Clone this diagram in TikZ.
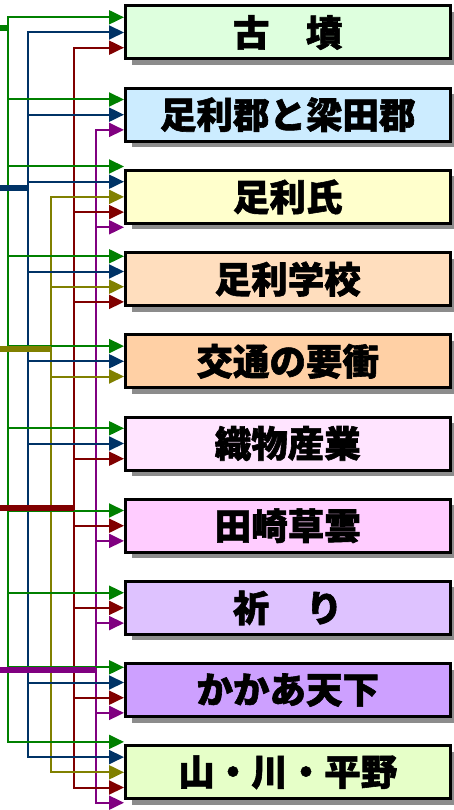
\documentclass[tikz,border=0pt]{standalone}
\usepackage{fontspec}
\newfontfamily\jp{Noto Sans CJK JP}[BoldFeatures={FakeBold=1.6}]
\usetikzlibrary{arrows.meta,shadows,calc}
\definecolor{cg}{RGB}{0,128,0}
\definecolor{cb}{RGB}{0,51,102}
\definecolor{co}{RGB}{128,128,0}
\definecolor{cr}{RGB}{128,0,0}
\definecolor{cp}{RGB}{128,0,128}
\definecolor{shgray}{RGB}{140,140,140}
\definecolor{f1}{RGB}{222,255,222}
\definecolor{f2}{RGB}{204,236,255}
\definecolor{f3}{RGB}{255,255,204}
\definecolor{f4}{RGB}{255,222,190}
\definecolor{f5}{RGB}{255,208,165}
\definecolor{f6}{RGB}{255,228,255}
\definecolor{f7}{RGB}{255,204,255}
\definecolor{f8}{RGB}{222,194,255}
\definecolor{f9}{RGB}{205,160,255}
\definecolor{f10}{RGB}{230,255,200}
\newcommand\feedline[3]{%
  \path ($(#1.west)+(0,#3)$) coordinate (#1#2);
  \draw[feedarrow, c#2] (#2x |- #1#2) -- (#1#2);}
\begin{document}
\begin{tikzpicture}[x=1pt,y=-1pt,
  topic/.style={draw=black, line width=3pt, minimum width=324.5pt,
    minimum height=53pt, inner sep=0pt,
    font=\jp\bfseries\fontsize{36.5}{36.5}\selectfont,
    general shadow={fill=shgray, shadow xshift=6pt, shadow yshift=-6pt}},
  feedarrow/.style={line width=2pt, -{Triangle[length=15pt,width=14pt]}},
  rail/.style={line width=2pt, line cap=rect},
  stub/.style={line width=5.5pt}]
\useasboundingbox (0,0) rectangle (454,810);
% topic boxes
\node[topic, fill=f1]  (b1)  at (287.75, 32.5)  {古　墳};
\node[topic, fill=f2]  (b2)  at (287.75, 114.7) {足利郡と梁田郡};
\node[topic, fill=f3]  (b3)  at (287.75, 196.9) {足利氏};
\node[topic, fill=f4]  (b4)  at (287.75, 279.1) {足利学校};
\node[topic, fill=f5]  (b5)  at (287.75, 361.3) {交通の要衝};
\node[topic, fill=f6]  (b6)  at (287.75, 443.5) {織物産業};
\node[topic, fill=f7]  (b7)  at (287.75, 525.7) {田崎草雲};
\node[topic, fill=f8]  (b8)  at (287.75, 607.9) {祈　り};
\node[topic, fill=f9]  (b9)  at (287.75, 690.1) {かかあ天下};
\node[topic, fill=f10] (b10) at (287.75, 772.3) {山・川・平野};
% rail x positions
\coordinate (gx) at (7.5,0);
\coordinate (bx) at (28,0);
\coordinate (ox) at (51,0);
\coordinate (rx) at (74,0);
\coordinate (px) at (96,0);
% rail end points
\path ($(b1.west)+(0,-15.2)$) coordinate (b1g);
\path ($(b10.west)+(0,-30.4)$) coordinate (b10g);
\path ($(b1.west)+(0,0)$) coordinate (b1b);
\path ($(b10.west)+(0,-15.2)$) coordinate (b10b);
\path ($(b3.west)+(0,0)$) coordinate (b3o);
\path ($(b10.west)+(0,0)$) coordinate (b10o);
\path ($(b1.west)+(0,15.2)$) coordinate (b1r);
\path ($(b10.west)+(0,15.2)$) coordinate (b10r);
\path ($(b2.west)+(0,15.2)$) coordinate (b2p);
\path ($(b10.west)+(0,30.4)$) coordinate (b10p);
% rails
\draw[rail, cg] (gx |- b1g) -- (gx |- b10g);
\draw[rail, cb] (bx |- b1b) -- (bx |- b10b);
\draw[rail, co] (ox |- b3o) -- (ox |- b10o);
\draw[rail, cr] (rx |- b1r) -- (rx |- b10r);
\draw[rail, cp] (px |- b2p) -- (px |- b10p);
% arrows
\feedline{b1}{g}{-15.2}\feedline{b1}{b}{0}\feedline{b1}{r}{15.2}
\feedline{b2}{g}{-15.2}\feedline{b2}{b}{0}\feedline{b2}{p}{15.2}
\feedline{b3}{g}{-30.4}\feedline{b3}{b}{-15.2}\feedline{b3}{o}{0}\feedline{b3}{r}{15.2}\feedline{b3}{p}{30.4}
\feedline{b4}{g}{-22.8}\feedline{b4}{b}{-7.6}\feedline{b4}{o}{7.6}\feedline{b4}{r}{22.8}
\feedline{b5}{g}{-15.2}\feedline{b5}{b}{0}\feedline{b5}{o}{15.2}
\feedline{b6}{g}{-15.2}\feedline{b6}{b}{0}\feedline{b6}{r}{15.2}
\feedline{b7}{g}{-15.2}\feedline{b7}{r}{0}\feedline{b7}{p}{15.2}
\feedline{b8}{g}{-15.2}\feedline{b8}{r}{0}\feedline{b8}{p}{15.2}
\feedline{b9}{g}{-22.8}\feedline{b9}{b}{-7.6}\feedline{b9}{r}{7.6}\feedline{b9}{p}{22.8}
\feedline{b10}{g}{-30.4}\feedline{b10}{b}{-15.2}\feedline{b10}{o}{0}\feedline{b10}{r}{15.2}\feedline{b10}{p}{30.4}
% incoming stubs
\coordinate (gin) at (0,28);
\coordinate (bin) at (0,188);
\coordinate (oin) at (0,349);
\coordinate (rin) at (0,508);
\coordinate (pin) at (0,670);
\draw[stub, cg] (gin) -- (gx |- gin);
\draw[stub, cb] (bin) -- (bx |- bin);
\draw[stub, co] (oin) -- (ox |- oin);
\draw[stub, cr] (rin) -- (rx |- rin);
\draw[stub, cp] (pin) -- (px |- pin);
\end{tikzpicture}
\end{document}
